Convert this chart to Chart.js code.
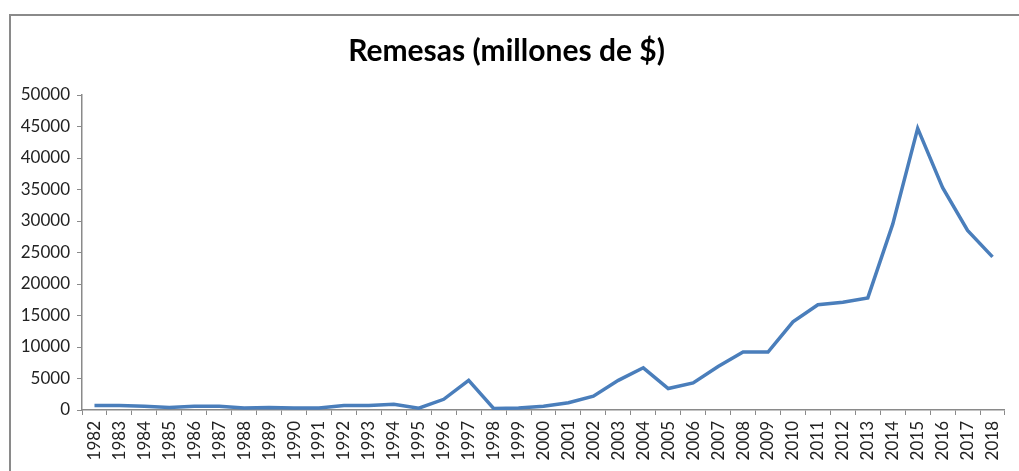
<!DOCTYPE html>
<html>
<head>
<meta charset="utf-8">
<script src="https://cdn.jsdelivr.net/npm/chart.js@4.4.1/dist/chart.umd.min.js"></script>
<style>
  body { margin: 0; background: #fff; }
  #frame {
    position: absolute; left: 9px; top: 14px; width: 1010px; height: 457px;
    border-top: 2px solid #8a8a8a; border-left: 2px solid #8a8a8a;
  }
  #wrap { position: absolute; left: 0; top: 0; width: 1019px; height: 471px; }
</style>
</head>
<body>
<div id="frame"></div>
<div id="wrap"><canvas id="remesas" width="1019" height="471"></canvas></div>
<script>
// Años y remesas (millones de $)
const years = ['1982', '1983', '1984', '1985', '1986', '1987', '1988', '1989', '1990', '1991',
  '1992', '1993', '1994', '1995', '1996', '1997', '1998', '1999', '2000', '2001',
  '2002', '2003', '2004', '2005', '2006', '2007', '2008', '2009', '2010', '2011',
  '2012', '2013', '2014', '2015', '2016', '2017', '2018'];
const remesas = [700, 700, 600, 400, 600, 600, 300, 400, 300, 300,
  700, 700, 900, 300, 1700, 4700, 250, 300, 600, 1150,
  2200, 4700, 6700, 3400, 4300, 6900, 9200, 9200, 14000, 16700,
  17100, 17800, 29500, 44700, 35300, 28500, 24300];
const yTicksMax = 50000;
const yTicksStep = 5000;

const axisGray = '#8a8a8a';
const labelFont = { family: 'Lato', size: 17 };

const ctx = document.getElementById('remesas');

new Chart(ctx, {
  type: 'line',
  data: {
    labels: years,
    datasets: [{
      label: 'Remesas',
      data: remesas,
      borderColor: 'rgb(74, 126, 187)',
      borderWidth: 3.5,
      pointRadius: 0,
      tension: 0,
      fill: false
    }]
  },
  options: {
    responsive: false,
    animation: false,
    layout: { padding: { left: 0, right: 6, top: 0, bottom: 0 } },
    plugins: {
      legend: { display: false },
      tooltip: { enabled: false },
      title: {
        display: true,
        text: 'Remesas (millones de $)',
        color: '#000',
        font: { family: 'Lato', size: 30, weight: 'bold' },
        padding: { top: 33, bottom: 26 }
      }
    },
    scales: {
      x: {
        offset: true,
        grid: {
          offset: true,
          drawOnChartArea: false,
          drawTicks: true,
          tickLength: 5,
          color: axisGray
        },
        border: { display: true, color: axisGray, width: 1.5 },
        ticks: {
          autoSkip: false,
          minRotation: 90,
          maxRotation: 90,
          padding: 6,
          color: '#222',
          font: labelFont
        },
        afterFit: (scale) => { scale.height = 61; }
      },
      y: {
        min: 0,
        max: yTicksMax,
        grid: {
          drawOnChartArea: false,
          drawTicks: true,
          tickLength: 5,
          color: axisGray
        },
        border: { display: true, color: axisGray, width: 1.5 },
        ticks: {
          stepSize: yTicksStep,
          padding: 7,
          color: '#222',
          font: labelFont,
          callback: (v) => String(v)
        },
        afterFit: (scale) => { scale.width = 82; }
      }
    }
  }
});
</script>
</body>
</html>
